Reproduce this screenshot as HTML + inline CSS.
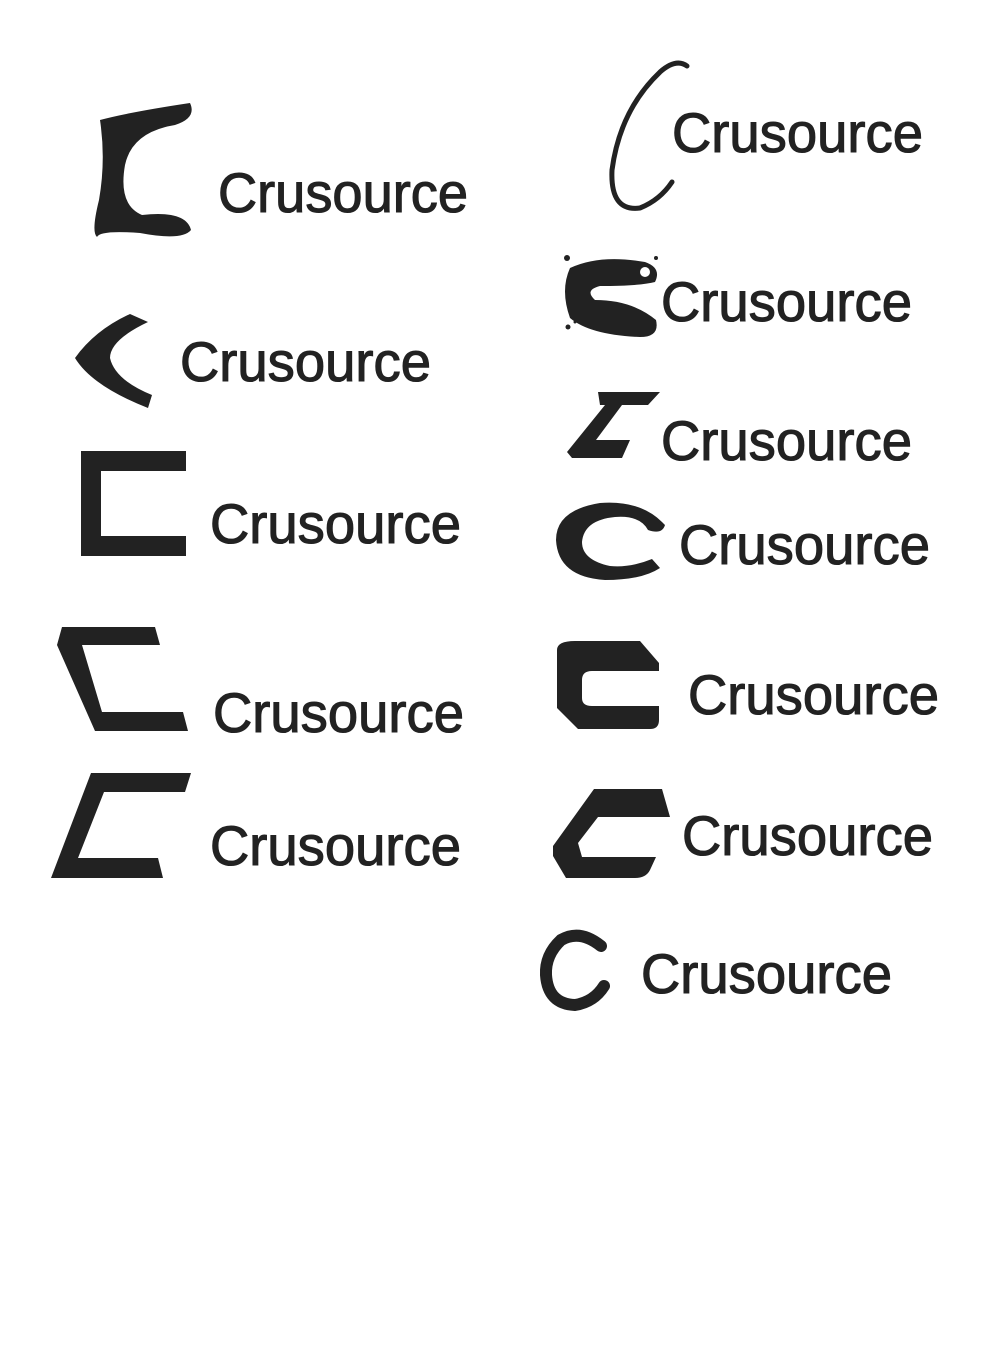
<!DOCTYPE html>
<html><head><meta charset="utf-8"><style>
html,body{margin:0;padding:0;background:#fff;}
svg{display:block;}
text{font-family:"Liberation Sans",sans-serif;font-weight:normal;font-size:56px;fill:#222;stroke:#222;stroke-width:1.1px;}
</style></head><body>
<svg width="1000" height="1366" viewBox="0 0 1000 1366">
<g fill="#222">
<path d="M100,120 Q130,112 190,103 Q197,118 175,125 Q132,132 125,165 Q118,205 142,215 Q186,210 191,230 Q182,241 140,233 Q100,230 97,237 Q91,232 99,200 Q106,160 100,120 Z"/>
<text x="218" y="212" textLength="250" lengthAdjust="spacingAndGlyphs">Crusource</text>

<path d="M130,314 L148,322 Q110,340 110,358 Q115,380 152,395 L148,408 Q92,386 75,358 Q95,330 130,314 Z"/>
<text x="180" y="381" textLength="251" lengthAdjust="spacingAndGlyphs">Crusource</text>

<path d="M81,451 H186 V471 H101 V536 H186 V556 H81 Z"/>
<text x="210" y="543" textLength="251" lengthAdjust="spacingAndGlyphs">Crusource</text>

<path d="M62,627 H155 L160,645 H82 L102,712 H183 L188,731 H95 L57,645 Z"/>
<text x="213" y="732" textLength="251" lengthAdjust="spacingAndGlyphs">Crusource</text>

<path d="M91,773 H191 L185,792 H104 L78,858 H158 L163,878 H51 Z"/>
<text x="210" y="865" textLength="251" lengthAdjust="spacingAndGlyphs">Crusource</text>

<path fill="none" stroke="#222" stroke-width="5" stroke-linecap="round" d="M687,66 Q676,58 660,72 Q620,110 612,170 Q610,212 640,208 Q660,200 672,182"/>
<text x="672" y="152" textLength="251" lengthAdjust="spacingAndGlyphs">Crusource</text>

<g>
<path d="M570,268 Q600,254 645,262 Q662,268 655,282 Q640,286 600,286 Q584,290 595,300 Q632,300 656,320 Q660,337 640,337 Q590,335 570,318 Q560,290 570,268 Z"/>
<circle cx="645" cy="272" r="5" fill="#fff"/>
<circle cx="567" cy="258" r="3"/><circle cx="656" cy="258" r="2"/><circle cx="568" cy="327" r="2.5"/><circle cx="575" cy="322" r="1.5"/>
</g>
<text x="661" y="321" textLength="251" lengthAdjust="spacingAndGlyphs">Crusource</text>

<path d="M598,392 H660 L648,405 H622 L596,440 H630 L622,458 H572 L567,452 L605,405 H600 Z"/>
<text x="661" y="460" textLength="251" lengthAdjust="spacingAndGlyphs">Crusource</text>

<path d="M662,522 Q640,500 600,503 Q556,510 556,540 Q558,577 605,580 Q642,580 660,568 L652,559 Q630,568 610,566 Q582,560 582,542 Q584,520 615,517 Q640,515 648,530 Q662,535 665,525 Z"/>
<text x="679" y="564" textLength="251" lengthAdjust="spacingAndGlyphs">Crusource</text>

<path d="M575,641 H640 L659,663 V671 H592 Q582,671 582,680 V698 Q582,706 592,706 H659 V720 Q659,729 650,729 H578 L557,708 V650 Q557,641 575,641 Z"/>
<text x="688" y="714" textLength="251" lengthAdjust="spacingAndGlyphs">Crusource</text>

<path d="M594,789 H662 L670,817 H598 L578,843 L582,857 H656 L650,870 Q646,878 635,878 H566 L553,856 V846 Z"/>
<text x="682" y="855" textLength="251" lengthAdjust="spacingAndGlyphs">Crusource</text>

<path fill="none" stroke="#222" stroke-width="12" stroke-linecap="round" d="M601,946 Q580,929 561,940 Q545,955 546,975 Q548,1004 575,1005 Q594,1002 604,986"/>
<text x="641" y="993" textLength="251" lengthAdjust="spacingAndGlyphs">Crusource</text>
</g>
</svg>
</body></html>
